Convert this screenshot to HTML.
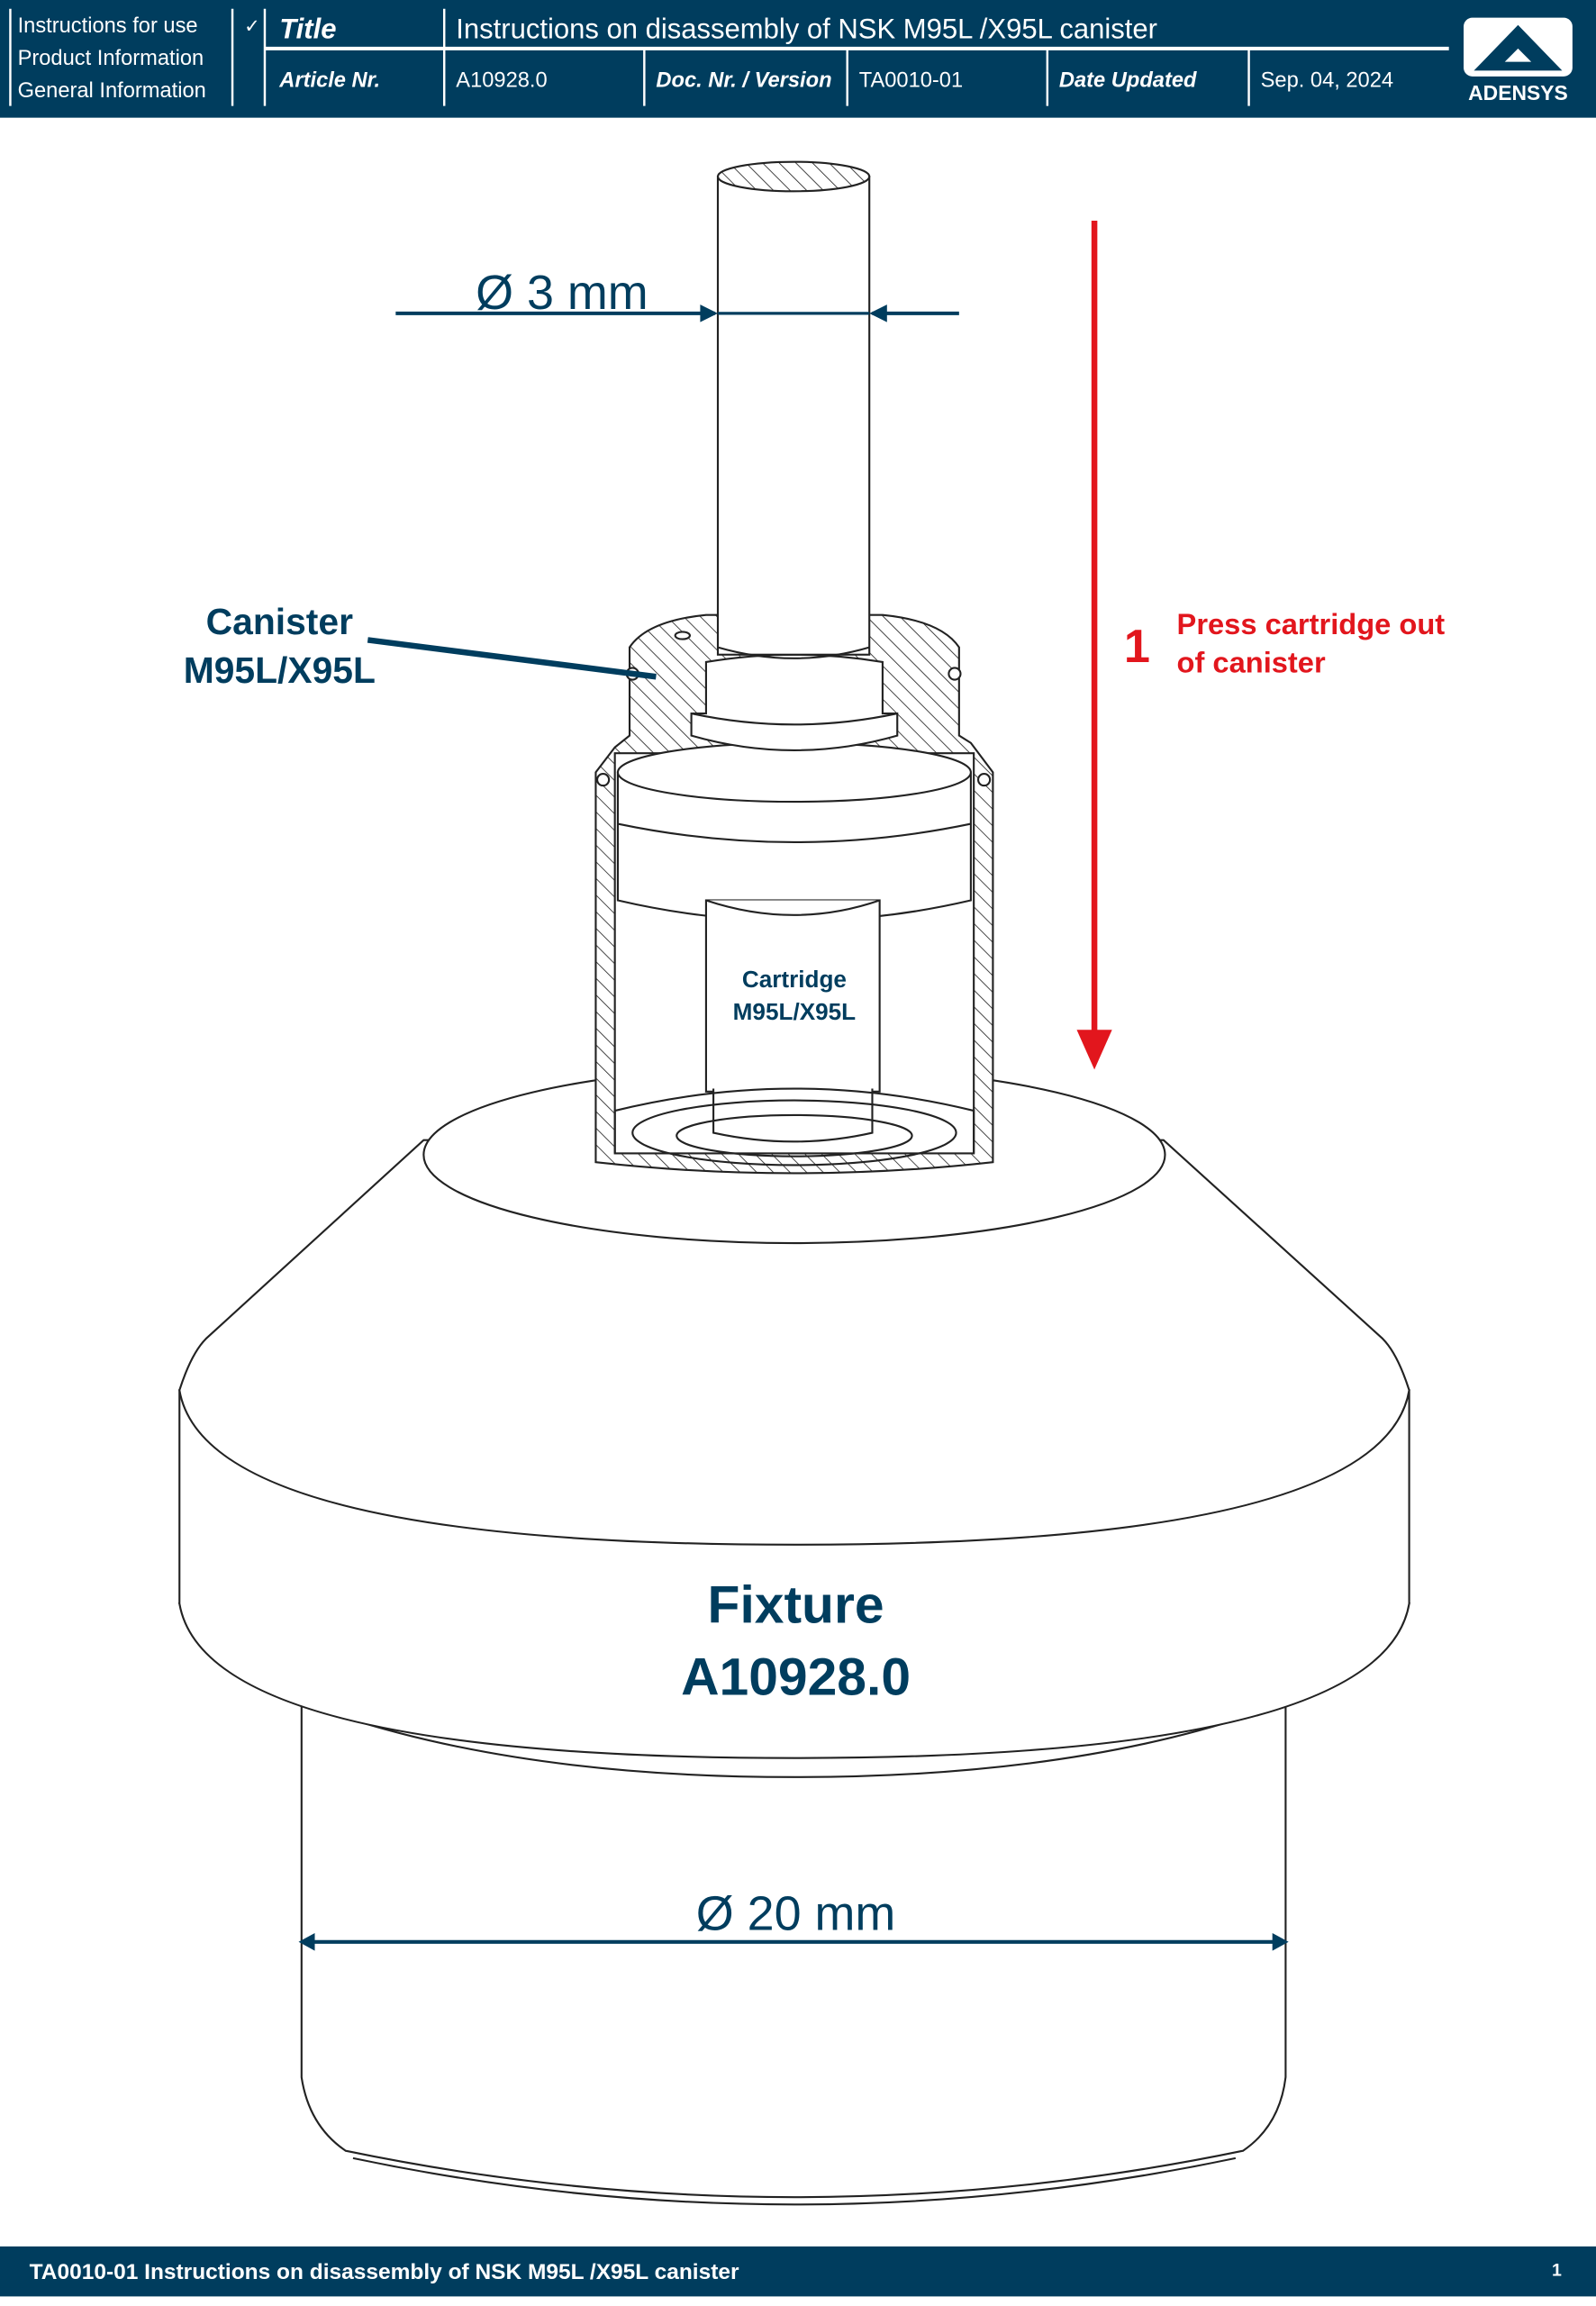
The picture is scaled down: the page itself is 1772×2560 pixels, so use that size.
<!DOCTYPE html>
<html><head><meta charset="utf-8"><style>
html,body{margin:0;padding:0;background:#fff}
svg{display:block}
text{font-family:"Liberation Sans",sans-serif}
</style></head><body>
<svg width="1772" height="2560" viewBox="0 0 1085 1567.5" xmlns="http://www.w3.org/2000/svg">
<defs>
<pattern id="h" width="8" height="8" patternUnits="userSpaceOnUse" patternTransform="rotate(-45)">
<rect width="8" height="8" fill="#fff"/><line x1="0" y1="0" x2="0" y2="8" stroke="#222" stroke-width="1"/>
</pattern>
</defs>
<!-- header -->
<rect x="0" y="0" width="1085" height="80" fill="#003d5e"/>
<g stroke="#fff" stroke-width="1.5">
<line x1="7" y1="6" x2="7" y2="72"/><line x1="158" y1="6" x2="158" y2="72"/><line x1="180" y1="6" x2="180" y2="72"/>
<line x1="302" y1="6" x2="302" y2="72"/><line x1="180" y1="33" x2="985" y2="33" stroke-width="2.5"/>
<line x1="438" y1="33" x2="438" y2="72"/><line x1="576" y1="33" x2="576" y2="72"/><line x1="712" y1="33" x2="712" y2="72"/><line x1="849" y1="33" x2="849" y2="72"/>
</g>
<g fill="#fff" font-size="14.5">
<text x="12" y="22">Instructions for use</text>
<text x="12" y="44">Product Information</text>
<text x="12" y="66">General Information</text>
<text x="166" y="22" font-size="13">✓</text>
<text x="190" y="26" font-size="19" font-weight="bold" font-style="italic">Title</text>
<text x="310" y="26" font-size="19">Instructions on disassembly of NSK M95L /X95L canister</text>
<text x="190" y="59" font-weight="bold" font-style="italic">Article Nr.</text>
<text x="310" y="59">A10928.0</text>
<text x="446" y="59" font-weight="bold" font-style="italic">Doc. Nr. / Version</text>
<text x="584" y="59">TA0010-01</text>
<text x="720" y="59" font-weight="bold" font-style="italic">Date Updated</text>
<text x="857" y="59">Sep. 04, 2024</text>
</g>
<rect x="995" y="12" width="74" height="40" rx="6" fill="#fff"/>
<polygon points="1032,17 1062,48 1002,48" fill="#003d5e"/>
<polygon points="1032,33 1041,42 1023,42" fill="#fff"/>
<text x="1032" y="68" fill="#fff" font-size="14" font-weight="bold" text-anchor="middle">ADENSYS</text>

<!-- fixture -->
<g fill="#fff" stroke="#222" stroke-width="1.3">
<path d="M205,1160 L205,1412 Q210,1445 235,1462 Q540,1525 845,1462 Q870,1445 874,1412 L874,1160 Z"/>
<path d="M240,1467 Q540,1530 840,1467" fill="none"/>
<path d="M122,1090 Q130,1120 155,1135 Q300,1208 540,1208 Q780,1208 925,1135 Q950,1120 958,1090 Z"/>
<path d="M122,945 L122,1090 Q140,1195 540,1195 Q940,1195 958,1090 L958,945 Z"/>
<path d="M122,945 Q130,920 140,910 L288,775 L791,775 L940,910 Q950,920 958,945 Q940,1050 540,1050 Q140,1050 122,945 Z"/>
<ellipse cx="540" cy="785" rx="252" ry="60"/>
</g>
<text x="541" y="1103" fill="#003d5e" font-size="36" font-weight="bold" text-anchor="middle">Fixture</text>
<text x="541" y="1152" fill="#003d5e" font-size="36" font-weight="bold" text-anchor="middle">A10928.0</text>
<line x1="212" y1="1320" x2="867" y2="1320" stroke="#003d5e" stroke-width="2.5"/>
<polygon points="203,1320 214,1314 214,1326" fill="#003d5e"/>
<polygon points="876,1320 865,1314 865,1326" fill="#003d5e"/>
<text x="541" y="1312" fill="#003d5e" font-size="33" text-anchor="middle">Ø 20 mm</text>

<!-- canister -->
<g stroke="#222" stroke-width="1.3">
<path d="M405,525 L405,790 Q540,805 675,790 L675,525 L660,505 L652,500 L652,440 Q640,422 600,418 L480,418 Q440,422 428,440 L428,500 L418,508 Z" fill="url(#h)"/>
<rect x="418" y="512" width="244" height="272" fill="#fff"/>
<path d="M420,612 Q540,640 660,612 L660,525 L420,525 Z" fill="#fff"/>
<ellipse cx="540" cy="525" rx="120" ry="20" fill="#fff"/>
<path d="M420,560 Q540,585 660,560" fill="none"/>
<path d="M470,500 L470,485 L480,485 L480,450 Q540,440 600,450 L600,485 L610,485 L610,500 Q540,520 470,500 Z" fill="#fff"/>
<path d="M470,485 Q540,500 610,485" fill="none"/>
<rect x="480" y="612" width="118" height="130" fill="#fff"/>
<path d="M480,612 Q540,632 598,612" fill="#fff"/>
<path d="M485,740 L485,770 Q540,782 593,770 L593,740" fill="#fff"/>
<ellipse cx="540" cy="770" rx="110" ry="22" fill="none"/>
<ellipse cx="540" cy="772" rx="80" ry="14" fill="none"/>
<path d="M418,784 L418,755 Q540,725 662,755 L662,784" fill="none"/>
<ellipse cx="464" cy="432" rx="5" ry="2.5" fill="#fff"/>
<circle cx="430" cy="458" r="4" fill="#fff"/><circle cx="649" cy="458" r="4" fill="#fff"/>
<circle cx="410" cy="530" r="4" fill="#fff"/><circle cx="669" cy="530" r="4" fill="#fff"/>
</g>
<text x="540" y="671" fill="#003d5e" font-size="16" font-weight="bold" text-anchor="middle">Cartridge</text>
<text x="540" y="693" fill="#003d5e" font-size="16" font-weight="bold" text-anchor="middle">M95L/X95L</text>

<!-- rod -->
<rect x="488" y="120" width="103" height="325" fill="#fff" stroke="#222" stroke-width="1.3"/>
<ellipse cx="539.5" cy="120" rx="51.5" ry="10" fill="url(#h)" stroke="#222" stroke-width="1.3"/>
<path d="M488,440 Q540,455 591,440" fill="none" stroke="#222" stroke-width="1.3"/>
<line x1="269" y1="213" x2="486" y2="213" stroke="#003d5e" stroke-width="2.5"/>
<line x1="488" y1="213" x2="591" y2="213" stroke="#003d5e" stroke-width="2"/>
<line x1="593" y1="213" x2="652" y2="213" stroke="#003d5e" stroke-width="2.5"/>
<polygon points="488,213 476,207 476,219" fill="#003d5e"/>
<polygon points="591,213 603,207 603,219" fill="#003d5e"/>
<text x="382" y="210" fill="#003d5e" font-size="33" text-anchor="middle">Ø 3 mm</text>

<text x="190" y="431" fill="#003d5e" font-size="25" font-weight="bold" text-anchor="middle">Canister</text>
<text x="190" y="464" fill="#003d5e" font-size="25" font-weight="bold" text-anchor="middle">M95L/X95L</text>
<line x1="250" y1="435" x2="446" y2="460" stroke="#003d5e" stroke-width="4"/>

<line x1="744" y1="150" x2="744" y2="705" stroke="#e2161d" stroke-width="4"/>
<polygon points="744,727 732,700 756,700" fill="#e2161d"/>
<text x="773" y="450" fill="#e2161d" font-size="32" font-weight="bold" text-anchor="middle">1</text>
<text x="800" y="431" fill="#e2161d" font-size="20" font-weight="bold">Press cartridge out</text>
<text x="800" y="457" fill="#e2161d" font-size="20" font-weight="bold">of canister</text>

<!-- footer -->
<rect x="0" y="1527" width="1085" height="34" fill="#003d5e"/>
<text x="20" y="1549" fill="#fff" font-size="15" font-weight="bold">TA0010-01 Instructions on disassembly of NSK M95L /X95L canister</text>
<text x="1055" y="1547" fill="#fff" font-size="12" font-weight="bold">1</text>
</svg>
</body></html>
